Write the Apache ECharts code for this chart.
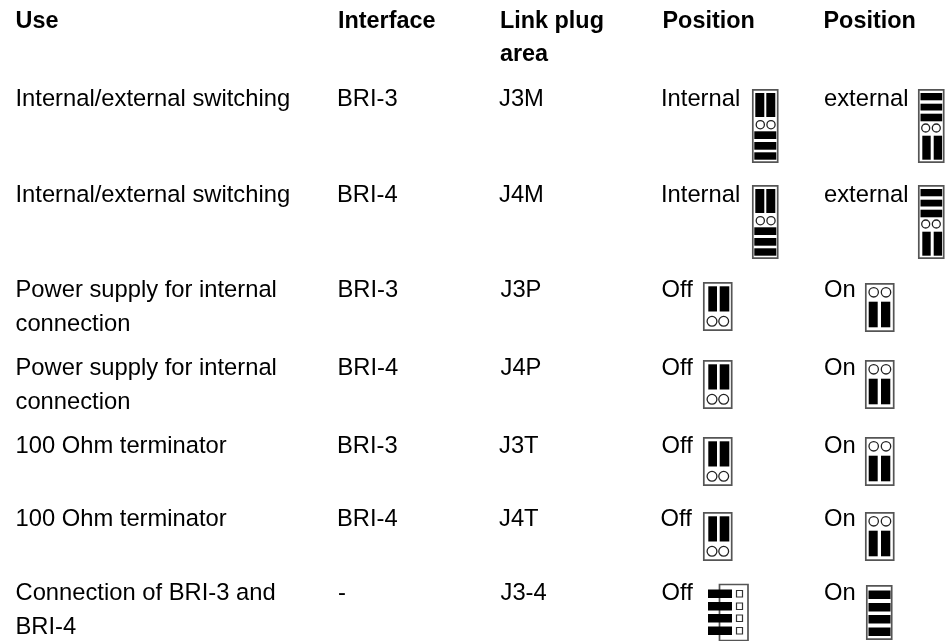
<!DOCTYPE html>
<html><head><meta charset="utf-8">
<style>html,body{margin:0;padding:0;background:#fff}#c{width:949px;height:641px}</style>
<script src="https://cdn.jsdelivr.net/npm/echarts@6/dist/echarts.min.js"></script>
</head><body><div id="c"></div>
<script>
const headers = ["Use","Interface","Link plug","Position","Position"];
const headerExtra = ["area"];
const uses = ["Internal/external switching","Internal/external switching","Power supply for internal\nconnection","Power supply for internal\nconnection","100 Ohm terminator","100 Ohm terminator","Connection of BRI-3 and\nBRI-4"];
const interfaces = ["BRI-3","BRI-4","BRI-3","BRI-4","BRI-3","BRI-4","-"];
const linkAreas = ["J3M","J4M","J3P","J4P","J3T","J4T","J3-4"];
const pos1 = ["Internal","Internal","Off","Off","Off","Off","Off"];
const pos2 = ["external","external","On","On","On","On","On"];
const icon1 = ["tall-a","tall-a","off","off","off","off","side"];
const icon2 = ["tall-b","tall-b","on","on","on","on","bars"];

const headerX = [15.5,338,500,662.5,823.5];
const useX = 15.5;
const ifaceX = [337,337,337.5,337.5,337,337,338];
const linkX = [499,499,500.5,500.5,499,499,500.5];
const pos1X = [661,661,661.5,661.5,661.5,660.5,661.5];
const pos2X = 824;
const rowY = [99.5,195.5,290.5,368.5,446.5,519.5,593.5];
const headY = [21.5,55];
const lineGap = 33.5;
const iconTopA = [89,185,282,360,437,512,584];
const iconTopB = [89,185,283,360,437,512,585];
const FONT = '"Liberation Sans", Arial, sans-serif';
const els = [];
function text(x,y,s,bold){
  els.push({type:'text',x,y,silent:true,style:{text:s,x:0,y:0,fill:'#000',font:(bold?'bold 23.4px ':'23.75px ')+FONT,verticalAlign:'middle'}});
}
function rect(x,y,w,h,fill,stroke,lw){
  els.push({type:'rect',shape:{x,y,width:w,height:h},silent:true,style:{fill:fill||'none',stroke:stroke||null,lineWidth:lw||0}});
}
function circ(cx,cy,r){
  els.push({type:'circle',shape:{cx,cy,r},silent:true,style:{fill:'#fff',stroke:'#222',lineWidth:1.3}});
}
function frame(x,y,w,h){ rect(x+.8,y+.8,w-1.6,h-1.6,'#fff','#555',1.7); }
function tall(x,y,flip){
  frame(x,y,26.5,74);
  if(!flip){
    rect(x+3.3,y+4,9,24,'#000'); rect(x+14.3,y+4,9,24,'#000');
    [[42.3,7.7],[53,7.7],[63.3,7.4]].forEach(b=>rect(x+2.3,y+b[0],22,b[1],'#000'));
    circ(x+8.3,y+35.7,4.1); circ(x+19,y+35.7,4.1);
  } else {
    [[4,7.3],[14.7,6.8],[24.7,7.6]].forEach(b=>rect(x+2.5,y+b[0],21.7,b[1],'#000'));
    circ(x+7.7,y+39,4); circ(x+18.3,y+39,4);
    rect(x+4.3,y+46.7,8.4,24,'#000'); rect(x+15.7,y+46.7,8.4,24,'#000');
  }
}
function pair(x,y,on){
  frame(x,y,29.5,49);
  if(on){
    rect(x+3.7,y+18.7,9,25.6,'#000'); rect(x+16,y+18.7,9.3,25.6,'#000');
    circ(x+8.7,y+9.3,4.7); circ(x+21,y+9.3,4.7);
  } else {
    rect(x+5.3,y+4.3,8.7,25.2,'#000'); rect(x+16.7,y+4.3,9.6,25.2,'#000');
    circ(x+9,y+39.3,4.9); circ(x+20.7,y+39.3,4.9);
  }
}
const barRows = [5.5,18,30,42.5];
function side(x,y){
  rect(x+11.5,y+.5,28.5,56,'#fff','#555',1.7);
  barRows.forEach(d=>{
    rect(x,y+d,24,8.5,'#000');
    rect(x+28.5,y+d+1,6,6.5,'#fff','#333',1.2);
  });
}
function bars(x,y){
  frame(x,y,26.5,55);
  barRows.forEach(d=>rect(x+2.5,y+d,22,8.5,'#000'));
}
const draw = {
  'tall-a':(x,y)=>tall(x,y,false),
  'tall-b':(x,y)=>tall(x,y,true),
  'off':(x,y)=>pair(x,y,false),
  'on':(x,y)=>pair(x,y,true),
  'side':side,
  'bars':bars
};
const iconXA = {'tall-a':752,'off':703,'side':708};
const iconXB = {'tall-b':918,'on':865,'bars':866};

headers.forEach((h,i)=>text(headerX[i],headY[0],h,true));
text(headerX[2],headY[1],headerExtra[0],true);
uses.forEach((u,r)=>{
  u.split('\n').forEach((l,k)=>text(useX,rowY[r]+k*lineGap,l));
  text(ifaceX[r],rowY[r],interfaces[r]);
  text(linkX[r],rowY[r],linkAreas[r]);
  text(pos1X[r],rowY[r],pos1[r]);
  text(pos2X,rowY[r],pos2[r]);
  draw[icon1[r]](iconXA[icon1[r]],iconTopA[r]);
  draw[icon2[r]](iconXB[icon2[r]],iconTopB[r]);
});
const chart = echarts.init(document.getElementById('c'),null,{renderer:'canvas'});
chart.setOption({animation:false,backgroundColor:'#fff',graphic:{elements:els}});
</script></body></html>
